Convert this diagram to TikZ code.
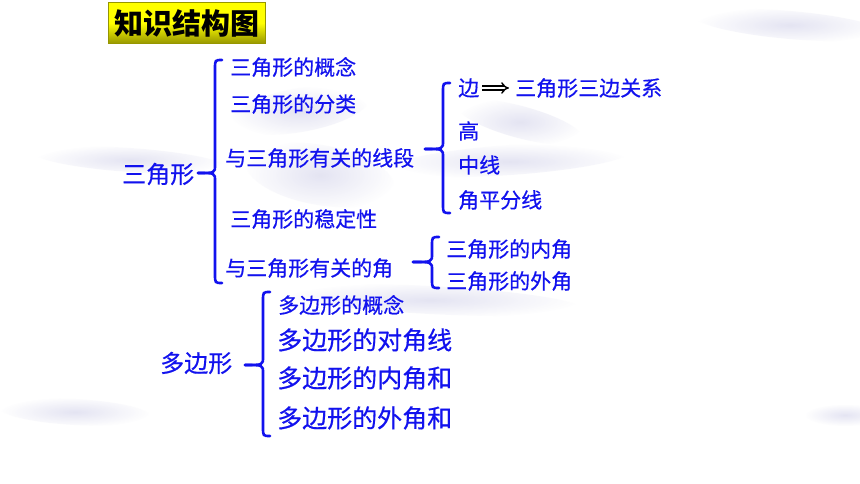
\documentclass[tikz,border=0pt]{standalone}
\usepackage{fontspec}
\usetikzlibrary{arrows.meta,shadings}
\newfontfamily\cjk[FakeBold=0.5]{Noto Sans CJK SC}
\newfontfamily\cjktitle{Noto Sans CJK SC}
\definecolor{txtblue}{RGB}{18,18,238}
\definecolor{cloud}{RGB}{206,206,232}
\definecolor{olivedark}{RGB}{150,150,0}
\newcommand\drawbrace[5]{%
  \draw[bracestyle] (#1+7,#2) .. controls (#1,#2) .. (#1,#2+9) -- (#1,#3-8) .. controls (#1,#3) .. (#5,#3);
  \draw[bracestyle] (#1+7,#4) .. controls (#1,#4) .. (#1,#4-9) -- (#1,#3+8) .. controls (#1,#3) .. (#5,#3);
}
\begin{document}
\begin{tikzpicture}[x=1pt,y=-1pt,
  bracestyle/.style={draw=txtblue,line width=2.6pt,line cap=round},
  item/.style={anchor=west,inner sep=0pt,text=txtblue,font=\cjk\fontsize{21}{21}\selectfont},
  bigitem/.style={item,font=\cjk\fontsize{25}{25}\selectfont},
  rootitem/.style={item,font=\cjk\fontsize{24}{24}\selectfont},
  cloudy/.style={inner color=cloud,outer color=white,draw=none,opacity=0.55},
  implarrow/.style={draw=black,double,double distance=2.4pt,line width=1.4pt,-{Implies},shorten <=3pt,shorten >=6pt}]
\useasboundingbox (0,0) rectangle (860,484);
\fill[white] (0,0) rectangle (860,484);
% background clouds
\shade[cloudy] (130,160) ellipse[x radius=95,y radius=12,rotate=-4];
\shade[cloudy] (300,110) ellipse[x radius=70,y radius=22,rotate=10];
\shade[cloudy] (320,175) ellipse[x radius=75,y radius=30,rotate=-10];
\shade[cloudy] (510,160) ellipse[x radius=120,y radius=15,rotate=4];
\shade[cloudy] (520,122) ellipse[x radius=65,y radius=16,rotate=-15];
\shade[cloudy] (430,300) ellipse[x radius=150,y radius=14,rotate=-3];
\shade[cloudy] (790,25) ellipse[x radius=95,y radius=14,rotate=-5];
\shade[cloudy] (75,412) ellipse[x radius=75,y radius=13,rotate=-3];
\shade[cloudy] (845,415) ellipse[x radius=40,y radius=11,rotate=0];
% title
\node[draw=olivedark,line width=0.8pt,top color=yellow,bottom color=olivedark,middle color=yellow,
      minimum width=157pt,minimum height=41pt,inner sep=0pt,
      font=\cjktitle\bfseries\fontsize{29}{29}\selectfont,text=black] (title) at (187,23) {知识结构图};
% level 1
\node[rootitem] (tri) at (122,174) {三角形};
\node[rootitem] (poly) at (160,363) {多边形};
% triangle branches
\node[item] (t1) at (230,67) {三角形的概念};
\node[item] (t2) at (230,104) {三角形的分类};
\node[item] (t3) at (225,158) {与三角形有关的线段};
\node[item] (t4) at (230,219) {三角形的稳定性};
\node[item] (t5) at (225,268) {与三角形有关的角};
% segment branches
\node[item] (s1) at (458,88) {边};
\node[item] (s1r) at (515,88) {三角形三边关系};
\node[item] (s2) at (458,131) {高};
\node[item] (s3) at (458,165) {中线};
\node[item] (s4) at (458,200) {角平分线};
\draw[implarrow] (s1) -- (s1r);
% angle branches
\node[item] (a1) at (446,249) {三角形的内角};
\node[item] (a2) at (446,281) {三角形的外角};
% polygon branches
\node[item] (p1) at (278,305) {多边形的概念};
\node[bigitem] (p2) at (277,340) {多边形的对角线};
\node[bigitem] (p3) at (277,378) {多边形的内角和};
\node[bigitem] (p4) at (277,418) {多边形的外角和};
% braces
\drawbrace{215}{60}{173}{283}{198}
\drawbrace{443}{83}{149}{213}{425}
\drawbrace{432}{237}{262}{288}{413}
\drawbrace{263}{292}{365}{436}{245}
\end{tikzpicture}
\end{document}
